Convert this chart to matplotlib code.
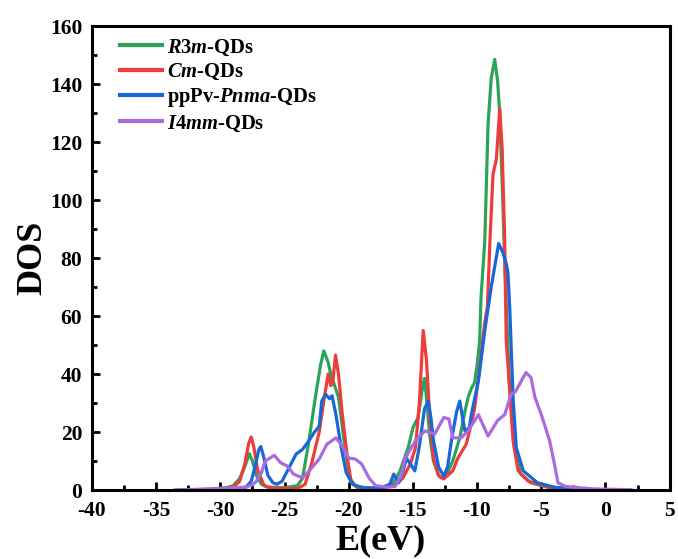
import matplotlib
matplotlib.use("Agg")
import matplotlib.pyplot as plt
from matplotlib.ticker import MultipleLocator

plt.rcParams['font.family'] = ['Liberation Serif', 'DejaVu Serif']
plt.rcParams['mathtext.fontset'] = 'custom'
plt.rcParams['mathtext.it'] = 'Liberation Serif:italic:bold'
plt.rcParams['mathtext.rm'] = 'Liberation Serif:bold'
plt.rcParams['axes.unicode_minus'] = False

labels = [r'$\mathit{R3m}$-QDs', r'$\mathit{Cm}$-QDs', r'ppPv-$\mathit{Pnma}$-QDs', r'$\mathit{I4mm}$-QDs']
colors = ['#2BA35A', '#EE3B3B', '#1A66D9', '#A86BE0']

e_r3m = [-33.5, -31, -29.5, -29, -28.5, -28.1, -27.75, -27.5, -27.2, -26.8, -26.3, -25, -24, -23.6, -23.1,
         -22.6, -22.2, -21.94, -21.6, -21.4, -21.1, -20.8, -20.5, -20.3, -19.9, -19.5, -18.5, -17.4, -16.5,
         -16.0, -15.35, -15.0, -14.6, -14.3, -14.1, -13.9, -13.7, -13.4, -13.0, -12.8, -12.3, -11.9, -11.35,
         -11.0, -10.7, -10.45, -10.2, -10.0, -9.8, -9.7, -9.4, -9.15, -8.9, -8.63, -8.4, -8.24, -8.0, -7.85,
         -7.5, -7.1, -6.6, -5.8, -4.5, -3]
d_r3m = [0, 0.2, 0.8, 1.5, 4, 8, 12.5, 10, 5, 2, 1, 0.8, 1.5, 4, 17,
         32, 43, 48, 44, 40, 36, 32, 22, 14.6, 4, 1.5, 0.6, 0.6, 2.5,
         6.6, 15, 21.5, 25, 34, 38.5, 30, 19, 10, 5, 4.2, 6, 10, 18,
         26, 32, 35, 37, 43, 51.5, 66, 86, 126, 142, 148.5, 141, 130, 100, 78,
         37.7, 14.6, 5.5, 2.5, 1, 0.5]

e_cm = [-33, -30, -29, -28.5, -28.1, -27.8, -27.6, -27.4, -27.1, -26.6, -26, -24, -23.4, -22.9, -22.3,
        -21.9, -21.6, -21.4, -21.25, -21.03, -20.8, -20.5, -20.1, -19.8, -19.3, -17.5, -16.5, -15.8, -15.2,
        -14.8, -14.5, -14.2, -13.95, -13.7, -13.4, -13.0, -12.6, -11.9, -11.5, -10.85, -10.5, -10.2, -9.8,
        -9.4, -9.2, -9.0, -8.76, -8.5, -8.24, -8.05, -7.85, -7.73, -7.6, -7.2, -6.8, -6.0, -4.5, -3]
d_cm = [0, 0.3, 1, 3, 9, 16, 18.3, 15, 7, 1.5, 0.6, 0.5, 2, 9, 20,
        32, 40, 36, 37, 46.5, 40, 26, 11, 2.5, 0.8, 0.5, 1.5, 4, 9,
        14.6, 30, 55, 45, 26, 11, 5, 3.8, 6.6, 11, 15.8, 22, 28, 42,
        58, 63, 86, 109, 114, 131.5, 118, 86, 51.5, 43.5, 17, 6.6, 3, 1, 0.5]

e_pnma = [-33, -29, -28, -27.6, -27.3, -27.0, -26.85, -26.6, -26.3, -25.9, -25.6, -25.2, -24.65, -24.1,
          -23.6, -23.1, -22.7, -22.3, -22.1, -21.8, -21.5, -21.3, -21.0, -20.6, -20.2, -19.7, -19, -17.5,
          -16.8, -16.5, -16.1, -15.8, -15.5, -15.2, -14.85, -14.5, -14.1, -13.8, -13.6, -13.4, -13.0, -12.6,
          -12.3, -12.0, -11.6, -11.35, -11.1, -10.95, -10.6, -10.45, -9.9, -9.4, -8.9, -8.32, -8.0, -7.73,
          -7.6, -7.46, -7.2, -6.95, -6.4, -5.3, -4, -2.2]
d_pnma = [0, 0.3, 1, 3, 8, 14, 15, 11, 5, 2.5, 2, 3, 7.7, 12.4,
          14, 17, 19.8, 22, 30.7, 33, 31.5, 32.5, 26, 15, 6, 2, 0.8, 0.7,
          2, 5.5, 2.5, 6, 11, 9, 6.6, 15, 28, 30.7, 25, 17, 8, 4.8,
          8, 17, 27, 30.7, 24, 20.4, 21.5, 26, 37.7, 55, 70, 85, 82, 78,
          75, 63, 32, 14.6, 6.6, 2.5, 1, 0.2]

e_i4mm = [-33.5, -30, -28, -27.5, -27.2, -26.8, -26.5, -25.8, -25.3, -24.8, -24.3, -23.6, -23.1, -22.3,
          -21.7, -21.0, -20.5, -20.0, -19.5, -19.0, -18.4, -17.9, -17.0, -16.4, -15.9, -15.6, -14.8, -14.05,
          -13.3, -12.6, -12.2, -11.9, -11.25, -10.7, -9.9, -9.15, -8.4, -7.85, -7.35, -7.0, -6.2, -5.8,
          -5.5, -5.0, -4.35, -3.98, -3.7, -3.1, -1, 2]
d_i4mm = [0, 0.5, 1, 1.8, 3, 6, 10, 12, 9.4, 8.3, 5.5, 4.2, 6.5, 10.7,
          15.8, 18, 15.2, 11, 10.7, 9, 4, 1.5, 1, 1.2, 5, 11, 17, 20.4,
          19.3, 25, 24.5, 18, 18, 20.4, 26, 18.6, 24, 26, 33, 34, 40.5, 38.8,
          32, 26, 17, 9, 2.5, 1.2, 0.4, 0.1]

series = [(e_r3m, d_r3m), (e_cm, d_cm), (e_pnma, d_pnma), (e_i4mm, d_i4mm)]

fig = plt.figure(figsize=(6.78, 5.59), dpi=100)
ax = fig.add_axes([0.1357, 0.1234, 0.852, 0.830])

for (e, d), lab, c in zip(series, labels, colors):
    ax.plot(e, d, color=c, lw=2.3, label=lab, solid_joinstyle='round')

ax.set_xlim(-40, 5)
ax.set_ylim(0, 160)
ax.xaxis.set_major_locator(MultipleLocator(5))
ax.xaxis.set_minor_locator(MultipleLocator(2.5))
ax.yaxis.set_major_locator(MultipleLocator(20))
ax.yaxis.set_minor_locator(MultipleLocator(10))
ax.tick_params(which='both', direction='in', width=2)
ax.tick_params(which='major', length=6, labelsize=15.5)
ax.tick_params(axis='y', which='major', pad=7)
ax.tick_params(axis='x', which='major', pad=8)
ax.tick_params(which='minor', length=3.5)
for lbl in ax.get_xticklabels() + ax.get_yticklabels():
    lbl.set_fontweight('bold')
for s in ax.spines.values():
    s.set_linewidth(2.2)

ax.set_xlabel('E(eV)', fontsize=26, fontweight='bold', labelpad=2)
ax.set_ylabel('DOS', fontsize=26, fontweight='bold', labelpad=0)

leg = ax.legend(loc='upper left', frameon=False, fontsize=14.8, handlelength=2.0,
                handletextpad=0.25, labelspacing=0.2, borderaxespad=0.0,
                bbox_to_anchor=(0.035, 0.993))
for t in leg.get_texts():
    t.set_fontweight('bold')
for h in leg.get_lines():
    h.set_linewidth(3)

fig.savefig('out.png', dpi=100)
